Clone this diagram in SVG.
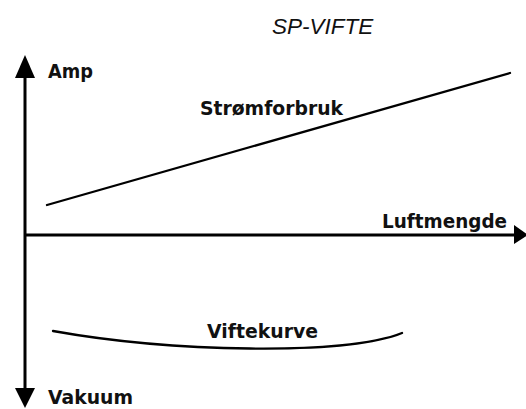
<svg xmlns="http://www.w3.org/2000/svg" width="526" height="409" viewBox="0 0 526 409">
<style>
.lbl{font-family:"DejaVu Sans","Verdana",sans-serif;font-weight:bold;font-size:20px;fill:#111}
.title{font-family:"Liberation Sans",Arial,sans-serif;font-style:italic;font-size:22.5px;fill:#111}
.axis{stroke:#000;stroke-width:3;fill:none}
.curve{stroke:#000;stroke-width:2.3;fill:none;stroke-linecap:round}
.head{fill:#000}
</style>
<rect width="526" height="409" fill="#fff"/>
<text id="title" class="title" x="272" y="34">SP-VIFTE</text>
<g id="connectors">
  <g id="y-axis">
    <line class="axis" x1="25" y1="74" x2="25" y2="392"/>
    <polygon class="head" points="25,55 35,78 15,78"/>
    <polygon class="head" points="25,408 35,388 15,388"/>
  </g>
  <g id="x-axis">
    <line class="axis" x1="25" y1="235" x2="516" y2="235"/>
    <polygon class="head" points="528,235 514,225 514,244"/>
  </g>
  <line id="stromforbruk-line" class="curve" x1="47" y1="205" x2="510" y2="73"/>
  <path id="viftekurve-curve" class="curve" d="M53,331 C170,352 345,356 402,333"/>
</g>
<g id="label-amp"><text class="lbl" x="48" y="78" textLength="45" lengthAdjust="spacingAndGlyphs">Amp</text></g>
<g id="label-strom"><text class="lbl" x="200" y="115" textLength="143" lengthAdjust="spacingAndGlyphs">Strømforbruk</text></g>
<g id="label-luft"><text class="lbl" x="382" y="228" textLength="125" lengthAdjust="spacingAndGlyphs">Luftmengde</text></g>
<g id="label-vifte"><text class="lbl" x="207" y="338" textLength="111" lengthAdjust="spacingAndGlyphs">Viftekurve</text></g>
<g id="label-vakuum"><text class="lbl" x="48" y="404" textLength="85" lengthAdjust="spacingAndGlyphs">Vakuum</text></g>
</svg>
